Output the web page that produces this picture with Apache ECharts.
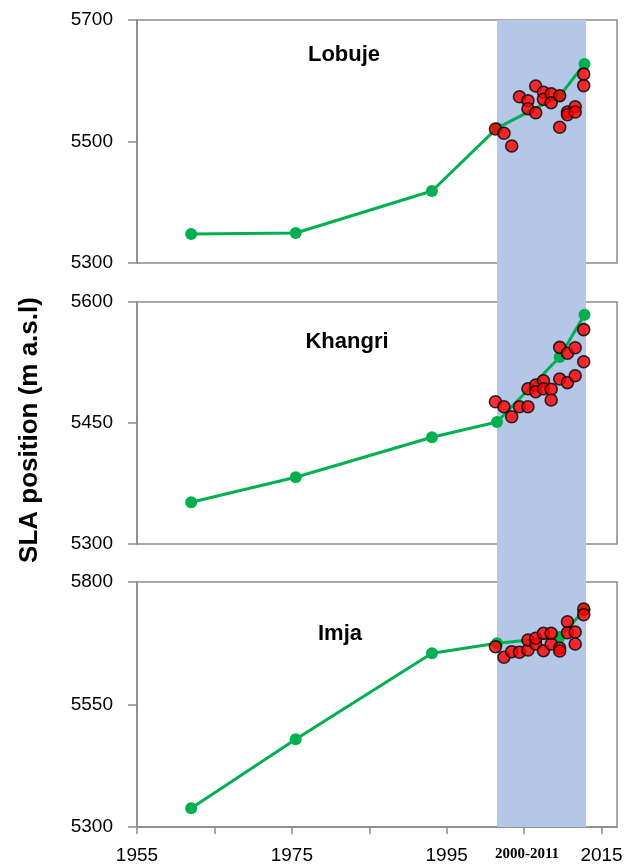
<!DOCTYPE html>
<html>
<head>
<meta charset="utf-8">
<script src="https://cdn.jsdelivr.net/npm/echarts@6/dist/echarts.min.js"></script>
<style>
html,body{margin:0;padding:0;background:#fff;}
#chart{width:639px;height:865px;}
</style>
</head>
<body>
<div id="chart"></div>
<script>
// ---------- data ----------
const panelNames = ['Lobuje', 'Khangri', 'Imja'];
const yMins = [5300, 5300, 5300];
const yMaxs = [5700, 5600, 5800];
const yTickLabels = [[5300, 5500, 5700], [5300, 5450, 5600], [5300, 5550, 5800]];
const xTickValues = [1955, 1965, 1975, 1985, 1995, 2005, 2015];
const xTickLabels = [1955, 1975, 1995, 2015];
const bandRange = [2001.5, 2013];
const bandLabel = '2000-2011';
const yTitle = 'SLA position (m a.s.l)';

// green line (multi-temporal SLA)
const greenYears = [1962, 1975.5, 1993.1, 2001.5, 2009.6, 2012.8];
const lobujeGreen = [5347.7, 5349.4, 5418.5, 5522, 5575, 5627.6];
const khangriGreen = [5351.7, 5382.7, 5432.3, 5451.2, 5531.8, 5584.3];
const imjaGreen = [5338.2, 5479, 5654.5, 5674.9, 5687.8, 5742.9];

// red points (annual SLA 2000-2011), two estimates per year
const redYears = [2001.3, 2002.4, 2003.4, 2004.4, 2005.5, 2006.5, 2007.5, 2008.5, 2009.6, 2010.6, 2011.6, 2012.7];
const lobujeRedA = [5520.6, 5513.5, 5492.6, 5573.7, 5567.2, 5591.4, 5581, 5578.7, 5575.4, 5548.6, 5557.3, 5611];
const lobujeRedB = [null, null, null, null, 5554, 5547.4, 5569.5, 5563.9, 5523.4, 5544, 5548.6, 5592];
const khangriRedA = [5476.4, 5470.2, 5457.8, 5470.2, 5470.2, 5497.1, 5502.4, 5491.8, 5543.8, 5536.4, 5543.3, 5565.7];
const khangriRedB = [null, null, null, null, 5492.5, 5488.8, 5492.5, 5478.5, 5504.5, 5500, 5508.6, 5526];
const imjaRedA = [5668, 5646.3, 5657.8, 5656.5, 5661.2, 5673.5, 5659.8, 5673.5, 5665.3, 5719, 5698, 5744.9];
const imjaRedB = [null, null, null, null, 5681.6, 5685.1, 5695.3, 5695.3, 5659.2, 5696.5, 5673.5, 5733.3];

const greens = [lobujeGreen, khangriGreen, imjaGreen];
const redsA = [lobujeRedA, khangriRedA, imjaRedA];
const redsB = [lobujeRedB, khangriRedB, imjaRedB];

// ---------- layout / style ----------
const FONT = 'Liberation Sans';
const AXIS_COLOR = '#8a8a8a';
const GREEN = '#00b050';
const plotLeft = 137, plotWidth = 480;
const gridTops = [20, 302, 582];
const gridHeights = [243, 242, 245];
const xMin = 1955, xMax = 2017;

const grids = [], xAxes = [], yAxes = [], series = [];
for (let i = 0; i < 3; i++) {
  grids.push({left: plotLeft, width: plotWidth, top: gridTops[i], height: gridHeights[i],
    show: true, borderColor: AXIS_COLOR, borderWidth: 1.5, backgroundColor: 'transparent'});
  const isBottom = i === 2;
  xAxes.push({type: 'value', gridIndex: i, min: xMin, max: xMax,
    axisLine: {show: isBottom, lineStyle: {color: AXIS_COLOR, width: 1.5}},
    axisTick: {show: isBottom, length: 7, lineStyle: {color: AXIS_COLOR, width: 1.5}, customValues: xTickValues},
    axisLabel: {show: isBottom, customValues: xTickLabels, formatter: v => String(v),
      fontFamily: FONT, fontSize: 19, color: '#000', margin: 19},
    splitLine: {show: false}});
  yAxes.push({type: 'value', gridIndex: i, min: yMins[i], max: yMaxs[i],
    axisLine: {show: true, lineStyle: {color: AXIS_COLOR, width: 1.5}},
    axisTick: {show: true, length: 9, lineStyle: {color: AXIS_COLOR, width: 1.5}, customValues: yTickLabels[i]},
    axisLabel: {customValues: yTickLabels[i], formatter: v => String(v),
      fontFamily: FONT, fontSize: 19, color: '#000', margin: 24},
    splitLine: {show: false}});
  series.push({type: 'line', xAxisIndex: i, yAxisIndex: i, z: 3,
    data: greenYears.map((y, k) => [y, greens[i][k]]),
    symbol: 'circle', symbolSize: 12, showSymbol: true,
    lineStyle: {color: GREEN, width: 3}, itemStyle: {color: GREEN, borderWidth: 0}, silent: true});
  const redData = [];
  redYears.forEach((y, k) => {
    redData.push([y, redsA[i][k]]);
    if (redsB[i][k] != null) redData.push([y, redsB[i][k]]);
  });
  series.push({type: 'scatter', xAxisIndex: i, yAxisIndex: i, z: 4,
    data: redData, symbol: 'circle', symbolSize: 12,
    itemStyle: {color: '#ff0000', borderColor: '#000', borderWidth: 1.6}, silent: true});
}
// band grid spanning all panels
grids.push({left: plotLeft, width: plotWidth, top: gridTops[0], height: gridTops[2] + gridHeights[2] - gridTops[0], show: false});
xAxes.push({type: 'value', gridIndex: 3, min: xMin, max: xMax, show: false});
yAxes.push({type: 'value', gridIndex: 3, min: 0, max: 1, show: false});
series.push({type: 'scatter', xAxisIndex: 3, yAxisIndex: 3, z: -1, data: [], silent: true,
  markArea: {silent: true, itemStyle: {color: '#b4c7e7', opacity: 1}, label: {show: false},
    data: [[{xAxis: bandRange[0]}, {xAxis: bandRange[1]}]]}});

const titlePos = [[344, 55], [347, 342], [340, 634]];
const graphics = panelNames.map((n, i) => ({type: 'text', x: titlePos[i][0], y: titlePos[i][1], z: 10,
  style: {text: n, font: 'bold 22px ' + FONT, fill: '#000', align: 'center', verticalAlign: 'middle'}}));
graphics.push({type: 'text', x: 30, y: 430, rotation: Math.PI / 2, z: 10,
  style: {text: yTitle, font: 'bold 26px ' + FONT, fill: '#000', align: 'center', verticalAlign: 'middle'}});
graphics.push({type: 'text', x: 527, y: 854, z: 10,
  style: {text: bandLabel, font: 'bold 15px "Liberation Serif"', fill: '#000', align: 'center', verticalAlign: 'middle'}});

const chart = echarts.init(document.getElementById('chart'), null, {renderer: 'canvas'});
chart.setOption({
  animation: false,
  backgroundColor: '#fff',
  grid: grids, xAxis: xAxes, yAxis: yAxes, series: series, graphic: graphics
});
</script>
</body>
</html>
